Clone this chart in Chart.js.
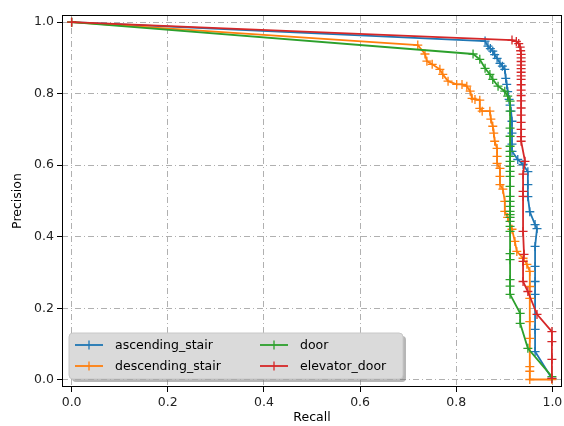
<!DOCTYPE html>
<html>
<head>
<meta charset="utf-8">
<script src="https://cdn.jsdelivr.net/npm/chart.js@4.4.1/dist/chart.umd.min.js"></script>
<style>
    body { margin: 0; background: #fff; }
    #wrap { width: 564px; height: 426px; }
</style>
</head>
<body>
<div id="wrap"><canvas id="prChart" width="564" height="426"></canvas></div>
<script>
// Tick labels for both axes
const tickValues = [0.0, 0.2, 0.4, 0.6, 0.8, 1.0];

// ascending_stair
const ascRecall = [0.0, 0.860, 0.866, 0.871, 0.876, 0.880, 0.885, 0.891, 0.896, 0.901, 0.903, 0.905, 0.907, 0.910, 0.912, 0.914, 0.916, 0.916, 0.916, 0.916, 0.928, 0.939, 0.949, 0.949, 0.949, 0.953, 0.964, 0.968, 0.964, 0.964, 0.964, 0.964, 0.964, 0.964, 0.999];
const ascPrecision = [1.0, 0.947, 0.933, 0.926, 0.919, 0.909, 0.899, 0.885, 0.877, 0.868, 0.843, 0.826, 0.806, 0.784, 0.768, 0.751, 0.723, 0.690, 0.659, 0.639, 0.616, 0.602, 0.582, 0.546, 0.512, 0.470, 0.434, 0.423, 0.373, 0.317, 0.275, 0.239, 0.141, 0.079, 0.004];

// descending_stair
const descRecall = [0.0, 0.720, 0.735, 0.739, 0.750, 0.766, 0.772, 0.783, 0.801, 0.812, 0.822, 0.829, 0.833, 0.839, 0.849, 0.849, 0.854, 0.870, 0.872, 0.876, 0.878, 0.880, 0.885, 0.885, 0.885, 0.891, 0.891, 0.891, 0.897, 0.901, 0.901, 0.907, 0.916, 0.922, 0.926, 0.939, 0.947, 0.953, 0.953, 0.953, 0.953, 0.953, 0.953, 0.953, 0.953, 0.999];
const descPrecision = [1.0, 0.936, 0.911, 0.891, 0.882, 0.868, 0.854, 0.835, 0.826, 0.826, 0.821, 0.807, 0.787, 0.784, 0.782, 0.759, 0.751, 0.751, 0.729, 0.709, 0.690, 0.667, 0.647, 0.625, 0.605, 0.591, 0.569, 0.546, 0.533, 0.499, 0.471, 0.454, 0.421, 0.387, 0.359, 0.340, 0.323, 0.303, 0.261, 0.228, 0.163, 0.116, 0.037, 0.024, 0.001, 0.001];

// door
const doorRecall = [0.0, 0.835, 0.849, 0.860, 0.870, 0.876, 0.887, 0.901, 0.907, 0.912, 0.912, 0.912, 0.912, 0.912, 0.912, 0.912, 0.912, 0.912, 0.912, 0.912, 0.912, 0.912, 0.912, 0.912, 0.912, 0.912, 0.912, 0.912, 0.912, 0.912, 0.912, 0.912, 0.912, 0.912, 0.912, 0.933, 0.933, 0.949, 0.999];
const doorPrecision = [1.0, 0.911, 0.896, 0.871, 0.854, 0.840, 0.821, 0.807, 0.793, 0.779, 0.751, 0.704, 0.681, 0.653, 0.639, 0.625, 0.611, 0.597, 0.583, 0.569, 0.541, 0.513, 0.499, 0.485, 0.471, 0.462, 0.454, 0.443, 0.429, 0.415, 0.353, 0.336, 0.280, 0.262, 0.239, 0.186, 0.158, 0.088, 0.009];

// elevator_door
const elevRecall = [0.0, 0.916, 0.925, 0.930, 0.933, 0.934, 0.935, 0.935, 0.935, 0.935, 0.935, 0.935, 0.935, 0.935, 0.935, 0.935, 0.935, 0.935, 0.935, 0.935, 0.935, 0.935, 0.935, 0.935, 0.943, 0.939, 0.939, 0.939, 0.939, 0.941, 0.939, 0.939, 0.949, 0.968, 0.999, 0.999, 0.999, 0.999];
const elevPrecision = [1.0, 0.950, 0.946, 0.940, 0.930, 0.920, 0.910, 0.900, 0.890, 0.880, 0.870, 0.860, 0.850, 0.840, 0.825, 0.810, 0.795, 0.780, 0.760, 0.740, 0.720, 0.700, 0.680, 0.667, 0.611, 0.575, 0.527, 0.513, 0.415, 0.351, 0.331, 0.275, 0.247, 0.183, 0.135, 0.107, 0.057, 0.004];

const seriesLabels = ['ascending_stair', 'descending_stair', 'door', 'elevator_door'];
const seriesColors = ['#1f77b4', '#ff7f0e', '#2ca02c', '#d62728'];

const FONT = '"DejaVu Sans", sans-serif';

// Pair recall/precision arrays into points
function toPoints(rec, prec) {
    return rec.map((r, i) => ({ x: r, y: prec[i] }));
}

function makeDataset(idx, rec, prec) {
    return {
        label: seriesLabels[idx],
        data: toPoints(rec, prec),
        borderColor: seriesColors[idx],
        backgroundColor: seriesColors[idx],
        showLine: true,
        borderWidth: 1.8,
        pointStyle: 'cross',
        pointRadius: 4.5,
        pointBorderWidth: 1.3,
        pointHoverRadius: 4.5,
        order: 4 - idx
    };
}

// Frame around the plot area plus a matplotlib-like legend box
const framePlugin = {
    id: 'frameAndLegend',
    afterDraw(chart) {
        const ctx = chart.ctx;
        const a = chart.chartArea;
        ctx.save();
        ctx.strokeStyle = '#000';
        ctx.lineWidth = 1;
        ctx.strokeRect(Math.round(a.left) + 0.5, Math.round(a.top) + 0.5,
            Math.round(a.right - a.left) - 1, Math.round(a.bottom - a.top) - 1);

        // legend
        const lx = a.left + 7, lw = 334, lh = 46;
        const ly = a.bottom - 8 - lh;
        ctx.fillStyle = 'rgba(110,110,110,0.5)';
        roundRect(ctx, lx + 3, ly + 3, lw, lh, 4);
        ctx.fill();
        ctx.fillStyle = '#dadada';
        ctx.strokeStyle = '#c8c8c8';
        roundRect(ctx, lx, ly, lw, lh, 4);
        ctx.fill();
        ctx.stroke();

        ctx.font = '12.5px ' + FONT;
        ctx.textBaseline = 'middle';
        const cols = [lx + 6, lx + 191];
        const rows = [ly + 12, ly + 33];
        seriesLabels.forEach((label, n) => {
            const cx = cols[Math.floor(n / 2)];
            const cy = rows[n % 2];
            ctx.strokeStyle = seriesColors[n];
            ctx.lineWidth = 1.8;
            ctx.beginPath();
            ctx.moveTo(cx, cy);
            ctx.lineTo(cx + 28, cy);
            ctx.stroke();
            ctx.lineWidth = 1.3;
            ctx.beginPath();
            ctx.moveTo(cx + 14, cy - 4.5);
            ctx.lineTo(cx + 14, cy + 4.5);
            ctx.stroke();
            ctx.fillStyle = '#000';
            ctx.fillText(label, cx + 40, cy + 1);
        });
        ctx.restore();
    }
};

function roundRect(ctx, x, y, w, h, r) {
    ctx.beginPath();
    ctx.moveTo(x + r, y);
    ctx.lineTo(x + w - r, y);
    ctx.quadraticCurveTo(x + w, y, x + w, y + r);
    ctx.lineTo(x + w, y + h - r);
    ctx.quadraticCurveTo(x + w, y + h, x + w - r, y + h);
    ctx.lineTo(x + r, y + h);
    ctx.quadraticCurveTo(x, y + h, x, y + h - r);
    ctx.lineTo(x, y + r);
    ctx.quadraticCurveTo(x, y, x + r, y);
    ctx.closePath();
}

function axisOptions(titleText, isX) {
    return {
        type: 'linear',
        min: -0.02,
        max: 1.02,
        afterBuildTicks: scale => {
            scale.ticks = tickValues.map(v => ({ value: v }));
        },
        afterFit: scale => {
            if (isX) {
                scale.height = 39;
                scale.paddingLeft = 0;
                scale.paddingRight = 0;
            } else {
                scale.width = 62;
                scale.paddingTop = 0;
                scale.paddingBottom = 0;
            }
        },
        ticks: {
            callback: v => Number(v).toFixed(1),
            font: { family: FONT, size: 12.5 },
            color: '#222',
            padding: 3,
            maxRotation: 0,
            autoSkip: false
        },
        grid: {
            color: '#b0b0b0',
            lineWidth: 1,
            borderDash: [6, 3, 1, 3],
            drawTicks: true,
            tickLength: 5,
            tickColor: '#000',
            tickWidth: 1,
            tickBorderDash: []
        },
        border: { display: false, dash: [6, 3, 1, 3] },
        title: {
            display: true,
            text: titleText,
            font: { family: FONT, size: 12.5 },
            color: '#000',
            padding: isX ? { top: 0, bottom: 1 } : { top: 10, bottom: 0 }
        }
    };
}

function initChart() {
    const ctx = document.getElementById('prChart').getContext('2d');
    new Chart(ctx, {
        type: 'scatter',
        data: {
            datasets: [
                makeDataset(0, ascRecall, ascPrecision),
                makeDataset(1, descRecall, descPrecision),
                makeDataset(2, doorRecall, doorPrecision),
                makeDataset(3, elevRecall, elevPrecision)
            ]
        },
        options: {
            responsive: false,
            animation: false,
            layout: { autoPadding: false, padding: { top: 15, right: 2, left: 0, bottom: 0 } },
            plugins: {
                legend: { display: false },
                tooltip: { enabled: false }
            },
            scales: {
                x: axisOptions('Recall', true),
                y: axisOptions('Precision', false)
            }
        },
        plugins: [framePlugin]
    });
}

document.addEventListener('DOMContentLoaded', initChart);
</script>
</body>
</html>
